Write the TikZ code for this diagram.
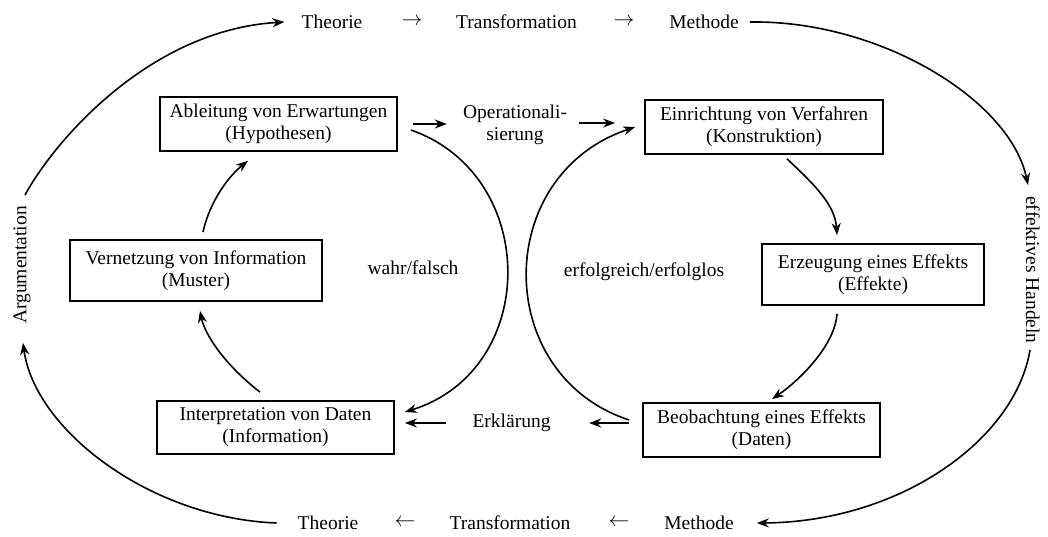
\documentclass[tikz,border=0pt]{standalone}
\usepackage{fontspec}
\setmainfont{Liberation Serif}
\usetikzlibrary{arrows.meta}
\begin{document}
\begin{tikzpicture}[x=1pt,y=-1pt,
  every node/.style={font=\fontsize{19.5}{22}\selectfont},
  box/.style={draw, line width=1.8pt, inner sep=0pt, align=center},
  lbl/.style={inner sep=0pt, align=center},
  arr/.style={line width=1.6pt, -{Stealth[length=12pt,width=9pt]}},
]
\useasboundingbox (0,0) rectangle (1048,536);

% boxes
\node[box, minimum width=237pt, minimum height=54pt] (abl) at (278.5,124) {Ableitung von Erwartungen\\(Hypothesen)};
\node[box, minimum width=238pt, minimum height=54pt] (ein) at (764,127) {Einrichtung von Verfahren\\(Konstruktion)};
\node[box, minimum width=252pt, minimum height=61pt] (ver) at (196,270.5) {Vernetzung von Information\\(Muster)};
\node[box, minimum width=222pt, minimum height=61pt] (erz) at (873,274.5) {Erzeugung eines Effekts\\(Effekte)};
\node[box, minimum width=237pt, minimum height=53pt] (int) at (275.5,427.5) {Interpretation von Daten\\(Information)};
\node[box, minimum width=237pt, minimum height=54pt] (beo) at (761.5,430) {Beobachtung eines Effekts\\(Daten)};

% inner labels
\node[lbl] (op) at (515,124.5) {Operationali-\\sierung};
\node[lbl] (wf) at (413,268) {wahr/falsch};
\node[lbl] (ee) at (644,272) {erfolgreich/erfolglos};
\node[lbl] (erk) at (511.5,423) {Erklärung};

% top row
\node[lbl] (t1) at (332,22) {Theorie};
\node[lbl] (ta1) at (412,22) {$\rightarrow$};
\node[lbl] (t2) at (516.5,22) {Transformation};
\node[lbl] (ta2) at (624,22) {$\rightarrow$};
\node[lbl] (t3) at (704,22) {Methode};

% bottom row
\node[lbl] (b1) at (328,523) {Theorie};
\node[lbl] (ba1) at (405,523) {$\leftarrow$};
\node[lbl] (b2) at (510,523) {Transformation};
\node[lbl] (ba2) at (619,523) {$\leftarrow$};
\node[lbl] (b3) at (699,523) {Methode};

% side labels
\node[lbl, rotate=90] (arg) at (22,265) {Argumentation};
\node[lbl, rotate=-90] (eh) at (1033,270) {effektives Handeln};

\coordinate (argtop) at (25,195);
\coordinate (argbot) at (23,343);
\coordinate (ehtop) at (1028,185);
\coordinate (ehbot) at (1030,350);

% outer arcs
\draw[arr] (argtop) .. controls (55,140) and (150,30) .. ([xshift=-17pt]t1.west);
\draw[arr] ([xshift=11pt]t3.east) .. controls (880,20) and (1010,100) .. (ehtop);
\draw[arr] (ehbot) .. controls (1015,440) and (900,522) .. ([xshift=23pt]b3.east);
\draw[arr] ([xshift=-21pt]b1.west) .. controls (150,518) and (35,430) .. (argbot);

% straight arrows
\draw[arr] ([xshift=15pt]abl.east) -- ([xshift=-16pt]abl.east -| op.west);
\draw[arr] ([shift={(12,-1.5)}]op.east) -- ([shift={(-29,-4)}]ein.west);
\draw[arr] ([shift={(-13,-7)}]beo.west) -- ([shift={(38.5,0)}]erk.east);
\draw[arr] ([xshift=-26.5pt]erk.west) -- ([shift={(10,-4.5)}]int.east);

% big inner arcs
\draw[arr] ([shift={(13,6)}]abl.east) .. controls (540,175) and (540,370) .. ([shift={(10,-15.5)}]int.east);
\draw[arr] ([shift={(-13,-10)}]beo.west) .. controls (492,375) and (492,175) .. ([shift={(-9,0)}]ein.west);

% cycle arrows
\draw[arr] ([shift={(23,4)}]ein.south) .. controls (815,185) and (835,205) .. ([shift={(-36,-8)}]erz.north);
\draw[arr] ([shift={(-36,8)}]erz.south) .. controls (835,345) and (800,380) .. ([shift={(10.5,-3)}]beo.north);
\draw[arr] ([shift={(-15.5,-8)}]int.north) .. controls (225,365) and (205,335) .. ([shift={(4,9)}]ver.south);
\draw[arr] ([shift={(7,-7)}]ver.north) .. controls (210,200) and (230,175) .. ([shift={(-30.5,9)}]abl.south);
\end{tikzpicture}
\end{document}
